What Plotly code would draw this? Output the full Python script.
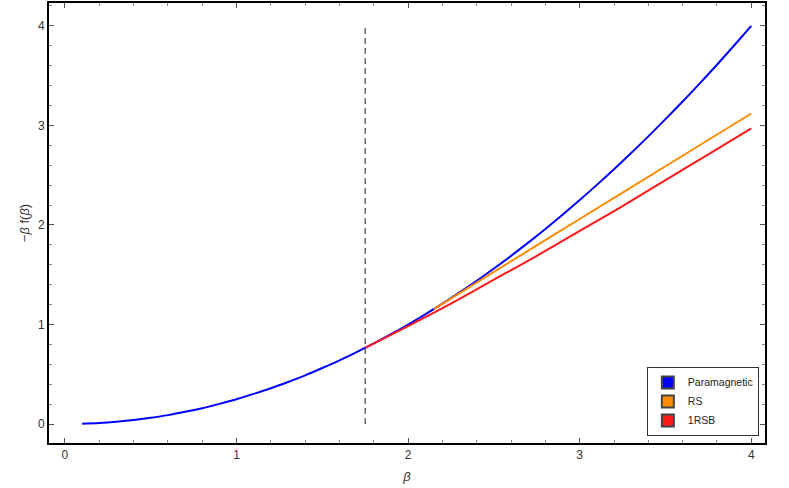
import plotly.graph_objects as go

# paramagnetic branch
beta_para = [0.1, 0.2, 0.3, 0.4, 0.5, 0.6, 0.7, 0.8, 0.9, 1.0,
             1.1, 1.2, 1.3, 1.4, 1.5, 1.6, 1.7, 1.8, 1.9, 2.0,
             2.1, 2.2, 2.3, 2.4, 2.5, 2.6, 2.7, 2.8, 2.9, 3.0,
             3.1, 3.2, 3.3, 3.4, 3.5, 3.6, 3.7, 3.8, 3.9, 4.0]
f_para = [0.003, 0.010, 0.023, 0.040, 0.063, 0.090, 0.123, 0.160, 0.203, 0.250,
          0.303, 0.360, 0.423, 0.490, 0.563, 0.640, 0.723, 0.810, 0.903, 1.000,
          1.103, 1.210, 1.323, 1.440, 1.563, 1.690, 1.823, 1.960, 2.103, 2.250,
          2.403, 2.560, 2.723, 2.890, 3.063, 3.240, 3.423, 3.610, 3.803, 4.000]

# replica symmetric branch
beta_rs = [2.15, 2.5, 3.0, 3.5, 4.0]
f_rs = [1.155, 1.53, 2.06, 2.59, 3.12]

# one-step RSB branch
beta_1rsb = [1.75, 2.0, 2.25, 2.5, 2.75, 3.0, 3.25, 3.5, 3.75, 4.0]
f_1rsb = [0.766, 0.985, 1.21, 1.45, 1.69, 1.94, 2.19, 2.45, 2.71, 2.97]

# critical temperature marker
beta_c = [1.75, 1.75]
beta_c_y = [0, 4]

fig = go.Figure()

fig.add_trace(go.Scatter(x=beta_c, y=beta_c_y, mode='lines', showlegend=False,
                         line=dict(color='#555555', width=1.3, dash='6px,4px')))
fig.add_trace(go.Scatter(x=beta_para, y=f_para, mode='lines', showlegend=False,
                         line=dict(color='#0000ff', width=2), line_shape='spline'))
fig.add_trace(go.Scatter(x=beta_rs, y=f_rs, mode='lines', showlegend=False,
                         line=dict(color='#ff8c00', width=2), line_shape='spline'))
fig.add_trace(go.Scatter(x=beta_1rsb, y=f_1rsb, mode='lines', showlegend=False,
                         line=dict(color='#ff1a1a', width=2), line_shape='spline'))

# legend entries with square swatches
for name, col in [('Paramagnetic', '#0000ff'), ('RS', '#ff8c00'), ('1RSB', '#ff1a1a')]:
    fig.add_trace(go.Scatter(x=[None], y=[None], mode='markers', name=name,
                             marker=dict(symbol='square', size=8, color=col,
                                         line=dict(color='#444444', width=0.5))))

axis_style = dict(showgrid=False, zeroline=False, showline=True, linecolor='black',
                  linewidth=2, mirror='allticks', ticks='inside', ticklen=5,
                  tickcolor='#555555', tickwidth=1, automargin=False,
                  tickfont=dict(size=12, color='#333333'),
                  minor=dict(ticks='inside', ticklen=3, dtick=0.2, tickcolor='#888888'))

fig.update_xaxes(range=[-0.093, 4.08], dtick=1,
                 title=dict(text='<i>β</i>', font=dict(size=13, color='#333333'), standoff=10),
                 **axis_style)
fig.update_yaxes(range=[-0.19, 4.23], dtick=1,
                 title=dict(text='−<i>β</i> f(<i>β</i>)', font=dict(size=13, color='#333333'),
                            standoff=5),
                 **axis_style)

fig.update_layout(
    width=789, height=488,
    margin=dict(l=49, r=24, t=3, b=45),
    plot_bgcolor='white', paper_bgcolor='white',
    font=dict(family='Liberation Sans, Arial, sans-serif'),
    legend=dict(x=0.835, y=0.173, xanchor='left', yanchor='top',
                bgcolor='white', bordercolor='#333333', borderwidth=1,
                font=dict(size=10.5, color='#222222'), itemwidth=30,
                itemsizing='constant', tracegroupgap=0),
)

fig.write_html("out.html", config={'displayModeBar': False},
               post_script="document.body.style.margin='0px';")
